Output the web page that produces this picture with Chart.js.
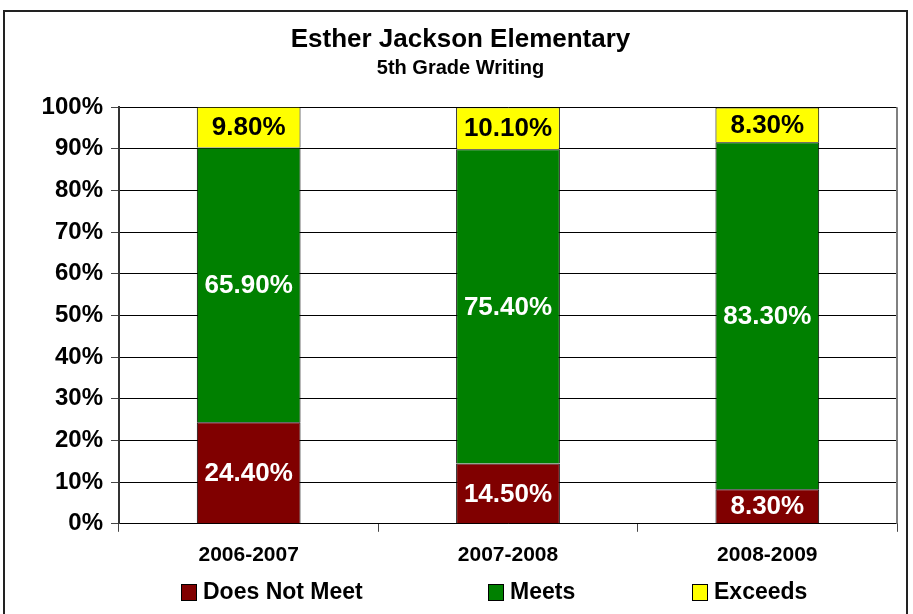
<!DOCTYPE html>
<html>
<head>
<meta charset="utf-8">
<script src="https://cdn.jsdelivr.net/npm/chart.js@4.4.0/dist/chart.umd.min.js"></script>
<style>
  html, body { margin: 0; padding: 0; background: #fff; }
  #wrap { position: relative; width: 913px; height: 614px; }
</style>
</head>
<body>
<div id="wrap"><canvas id="chart" width="913" height="614"></canvas></div>
<script>
// values
const years = ['2006-2007', '2007-2008', '2008-2009'];
const doesNotMeet = [24.4, 14.5, 8.3];
const meets = [65.9, 75.4, 83.3];
const exceeds = [9.8, 10.1, 8.3];

const FONT = 'Arial, "Liberation Sans", sans-serif';

// draws the value inside each segment, like Excel's data labels
const segmentLabels = {
  id: 'segmentLabels',
  afterDatasetsDraw(chart) {
    const ctx = chart.ctx;
    ctx.save();
    ctx.font = `bold 26px ${FONT}`;
    ctx.textAlign = 'center';
    ctx.textBaseline = 'middle';
    chart.data.datasets.forEach((ds, i) => {
      chart.getDatasetMeta(i).data.forEach((bar, j) => {
        const p = bar.getProps(['x', 'y', 'base'], true);
        ctx.fillStyle = ds.labelColor;
        ctx.fillText(ds.data[j].toFixed(2) + '%', p.x, (p.y + p.base) / 2 + 1);
      });
    });
    ctx.restore();
  },
};

// Excel-style legend row along the bottom, drawn by hand
const legendSlots = [181, 488, 692];
const excelLegend = {
  id: 'excelLegend',
  afterDraw(chart) {
    const ctx = chart.ctx;
    const y = 592;
    ctx.save();
    ctx.font = `bold 23px ${FONT}`;
    ctx.textBaseline = 'middle';
    ctx.textAlign = 'left';
    chart.data.datasets.forEach((ds, i) => {
      const x = legendSlots[i];
      ctx.fillStyle = ds.backgroundColor;
      ctx.fillRect(x, y - 8, 15, 16);
      ctx.strokeStyle = '#000';
      ctx.lineWidth = 1;
      ctx.strokeRect(x + 0.5, y - 7.5, 15, 16);
      ctx.fillStyle = '#000';
      ctx.fillText(ds.label, x + 22, y + 1);
    });
    ctx.restore();
  },
};

// outer frame + right edge of the plot area
const frame = {
  id: 'frame',
  beforeDatasetsDraw(chart) {
    const { ctx, chartArea: a } = chart;
    ctx.save();
    ctx.strokeStyle = '#808080';
    ctx.lineWidth = 2;
    ctx.beginPath();
    ctx.moveTo(a.right, a.top);
    ctx.lineTo(a.right, a.bottom);
    ctx.stroke();
    ctx.restore();
  },
  afterDraw(chart) {
    const ctx = chart.ctx;
    ctx.save();
    ctx.strokeStyle = '#222';
    ctx.lineWidth = 2;
    ctx.beginPath();
    ctx.moveTo(4, 640);
    ctx.lineTo(4, 11);
    ctx.lineTo(907, 11);
    ctx.lineTo(907, 640);
    ctx.stroke();
    ctx.restore();
  },
};

new Chart(document.getElementById('chart'), {
  type: 'bar',
  data: {
    labels: years,
    datasets: [
      { label: 'Does Not Meet', data: doesNotMeet, backgroundColor: '#800000', labelColor: '#fff' },
      { label: 'Meets', data: meets, backgroundColor: '#008000', labelColor: '#fff' },
      { label: 'Exceeds', data: exceeds, backgroundColor: '#ffff00', labelColor: '#000' },
    ].map((d) => ({ ...d, borderColor: '#000', borderWidth: 1, barPercentage: 0.4, categoryPercentage: 1 })),
  },
  options: {
    responsive: false,
    animation: false,
    layout: { padding: { left: 24, right: 16, top: 24, bottom: 35 } },
    plugins: {
      title: {
        display: true,
        text: 'Esther Jackson Elementary',
        color: '#000',
        font: { family: FONT, size: 26, weight: 'bold' },
        padding: { top: 0, bottom: 1 },
      },
      subtitle: {
        display: true,
        text: '5th Grade Writing',
        color: '#000',
        font: { family: FONT, size: 20, weight: 'bold' },
        padding: { top: 0, bottom: 27 },
      },
      legend: { display: false },
      tooltip: { enabled: false },
    },
    scales: {
      x: {
        stacked: true,
        grid: { display: true, drawOnChartArea: false, offset: true, color: '#000', tickLength: 8, tickColor: '#444' },
        border: { color: '#000', width: 1 },
        ticks: { color: '#000', font: { family: FONT, size: 21, weight: 'bold' }, padding: 11 },
      },
      y: {
        stacked: true,
        min: 0,
        max: 100,
        afterFit(scale) { scale.width = 95; },
        grid: { color: '#000', lineWidth: 1, tickLength: 8, tickColor: '#444' },
        border: { color: '#333', width: 2 },
        ticks: {
          stepSize: 10,
          color: '#000',
          padding: 8,
          font: { family: FONT, size: 24, weight: 'bold' },
          callback: (v) => v + '%',
        },
      },
    },
  },
  plugins: [segmentLabels, excelLegend, frame],
});
</script>
</body>
</html>
